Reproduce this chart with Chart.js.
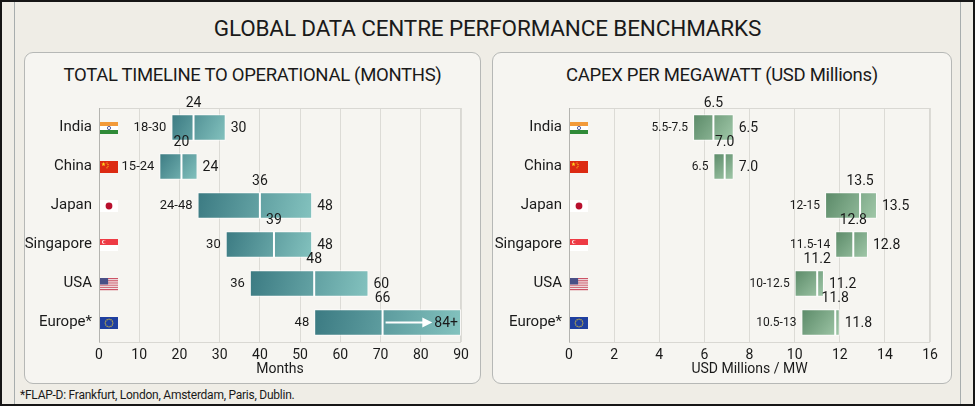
<!DOCTYPE html>
<html>
<head>
<meta charset="utf-8">
<script src="https://cdn.jsdelivr.net/npm/chart.js@4.4.1/dist/chart.umd.min.js"></script>
<style>
html,body{margin:0;padding:0;}
body{width:975px;height:406px;position:relative;background:#efede6;font-family:Roboto,"Noto Sans",sans-serif;overflow:hidden;color:#1a1a1a;}
#frame{position:absolute;left:0;top:0;width:971px;height:402px;border:2px solid #161616;}
.vline{position:absolute;top:2px;width:1px;height:402px;background:#a7adad;}
#title{position:absolute;left:0;width:975px;top:14px;text-align:center;font-size:22.5px;line-height:28px;letter-spacing:-0.15px;}
.panel{position:absolute;top:52px;height:330px;background:#f6f5f1;border:1px solid #b6b8b6;border-radius:9px;}
.ptitle{position:absolute;top:63px;text-align:center;font-size:18.5px;line-height:24px;letter-spacing:-0.3px;}
canvas{position:absolute;}
#foot{position:absolute;left:20px;top:387px;font-size:12px;line-height:16px;letter-spacing:-0.25px;}
</style>
</head>
<body>
<div id="frame"></div>
<div class="vline" style="left:14px"></div>
<div class="vline" style="left:960px"></div>
<div id="title">GLOBAL DATA CENTRE PERFORMANCE BENCHMARKS</div>
<div class="panel" style="left:24px;width:455px"></div>
<div class="panel" style="left:492px;width:458px"></div>
<div class="ptitle" style="left:24px;width:457px">TOTAL TIMELINE TO OPERATIONAL (MONTHS)</div>
<div class="ptitle" style="left:492px;width:460px">CAPEX PER MEGAWATT (USD Millions)</div>
<canvas id="c1" width="456" height="294" style="left:24px;top:88px;width:456px;height:294px"></canvas>
<canvas id="c2" width="458" height="294" style="left:493px;top:88px;width:458px;height:294px"></canvas>
<div id="foot">*FLAP-D: Frankfurt, London, Amsterdam, Paris, Dublin.</div>
<script>
// ---------- data ----------
const categories = ["India", "China", "Japan", "Singapore", "USA", "Europe*"];
const flagCodes = ["in", "cn", "jp", "sg", "us", "eu"];

// Total timeline to operational (months) - bar extents as drawn
const timelineLow  = [18, 15, 24.5, 31.5, 37.5, 53.5];
const timelineHigh = [31.5, 24.5, 53, 53, 67, 90];
const timelineMid  = [23.5, 20.5, 40, 43.5, 53.5, 70.5];
const timelineRangeLabels = ["18-30", "15-24", "24-48", "30", "36", "48"];
const timelineMidLabels   = ["24", "20", "36", "39", "48", "66"];
const timelineEndLabels   = ["30", "24", "48", "48", "60", "84+"];
const timelineOpenEnd     = [false, false, false, false, false, true];
const timelineTicks = [0, 10, 20, 30, 40, 50, 60, 70, 80, 90];

// Capex per megawatt (USD millions) - bar extents as drawn
const capexLow  = [5.5, 6.4, 11.35, 11.8, 10.0, 10.3];
const capexHigh = [7.3, 7.3, 13.65, 13.25, 11.3, 12.0];
const capexMid  = [6.4, 6.9, 12.9, 12.6, 11.0, 11.8];
const capexRangeLabels = ["5.5-7.5", "6.5", "12-15", "11.5-14", "10-12.5", "10.5-13"];
const capexMidLabels   = ["6.5", "7.0", "13.5", "12.8", "11.2", "11.8"];
const capexEndLabels   = ["6.5", "7.0", "13.5", "12.8", "11.2", "11.8"];
const capexOpenEnd     = [false, false, false, false, false, false];
const capexTicks = [0, 2, 4, 6, 8, 10, 12, 14, 16];

// ---------- drawing helpers ----------
const FONT = 'Roboto, "Noto Sans", sans-serif';
const TXT = '#1a1a1a';

function barGradient(c, cols) {
  const chart = c.chart;
  if (!chart.chartArea || c.type !== 'data' || !c.raw) return cols[0];
  const xs = chart.scales.x, ys = chart.scales.y;
  const x0 = xs.getPixelForValue(c.raw[0]), x1 = xs.getPixelForValue(c.raw[1]);
  const yc = ys.getPixelForValue(c.dataIndex);
  const g = chart.ctx.createLinearGradient(x0, yc - 14, x1, yc + 14);
  g.addColorStop(0, cols[0]);
  g.addColorStop(1, cols[1]);
  return g;
}

function drawFlag(ctx, code, x, y, w, h) {
  ctx.save();
  if (code === 'in') {
    ctx.fillStyle = '#f29a3a'; ctx.fillRect(x, y, w, h / 3);
    ctx.fillStyle = '#ffffff'; ctx.fillRect(x, y + h / 3, w, h / 3);
    ctx.fillStyle = '#2f8a37'; ctx.fillRect(x, y + 2 * h / 3, w, h / 3);
    ctx.strokeStyle = '#2b3a8c'; ctx.lineWidth = 0.8;
    ctx.beginPath(); ctx.arc(x + w / 2, y + h / 2, 1.6, 0, Math.PI * 2); ctx.stroke();
  } else if (code === 'cn') {
    ctx.fillStyle = '#dc2a12'; ctx.fillRect(x, y, w, h);
    ctx.fillStyle = '#ffd21f';
    star(ctx, x + 3.5, y + 3.3, 2.2);
    ctx.fillRect(x + 6.5, y + 1.5, 1, 1); ctx.fillRect(x + 7.5, y + 3, 1, 1);
    ctx.fillRect(x + 7.5, y + 4.8, 1, 1); ctx.fillRect(x + 6.5, y + 6.3, 1, 1);
  } else if (code === 'jp') {
    ctx.fillStyle = '#ffffff'; ctx.fillRect(x, y, w, h);
    ctx.fillStyle = '#b8102e';
    ctx.beginPath(); ctx.arc(x + w / 2, y + h / 2, 3.4, 0, Math.PI * 2); ctx.fill();
  } else if (code === 'sg') {
    ctx.fillStyle = '#ee3b45'; ctx.fillRect(x, y, w, h / 2);
    ctx.fillStyle = '#ffffff'; ctx.fillRect(x, y + h / 2, w, h / 2);
    ctx.beginPath(); ctx.arc(x + 4, y + 3, 2, 0, Math.PI * 2); ctx.fill();
    ctx.fillStyle = '#ee3b45';
    ctx.beginPath(); ctx.arc(x + 4.8, y + 3, 1.8, 0, Math.PI * 2); ctx.fill();
  } else if (code === 'us') {
    for (let i = 0; i < 13; i++) {
      ctx.fillStyle = i % 2 === 0 ? '#c8475a' : '#f4eef0';
      ctx.fillRect(x, y + i * h / 13, w, h / 13 + 0.2);
    }
    ctx.fillStyle = '#4a4f86'; ctx.fillRect(x, y, w * 0.45, h * 7 / 13);
  } else if (code === 'eu') {
    ctx.fillStyle = '#1f3f9f'; ctx.fillRect(x, y, w, h);
    ctx.fillStyle = '#f2cf2a';
    for (let i = 0; i < 12; i++) {
      const a = i * Math.PI / 6;
      ctx.fillRect(x + w / 2 + Math.cos(a) * 3.8 - 0.5, y + h / 2 + Math.sin(a) * 3.8 - 0.5, 1.1, 1.1);
    }
  }
  ctx.restore();
}

function star(ctx, cx, cy, r) {
  ctx.beginPath();
  for (let i = 0; i < 10; i++) {
    const rr = i % 2 === 0 ? r : r * 0.45;
    const a = -Math.PI / 2 + i * Math.PI / 5;
    ctx.lineTo(cx + Math.cos(a) * rr, cy + Math.sin(a) * rr);
  }
  ctx.closePath(); ctx.fill();
}

const framePlugin = {
  id: 'frame',
  beforeDatasetsDraw(chart) {
    const {ctx, chartArea: a} = chart;
    ctx.save();
    ctx.strokeStyle = '#d9d8d3'; ctx.lineWidth = 1;
    ctx.strokeRect(a.left + 0.5, a.top + 0.5, a.right - a.left - 1, a.bottom - a.top);
    ctx.strokeStyle = '#b4b4b0';
    ctx.beginPath(); ctx.moveTo(a.left + 0.5, a.top); ctx.lineTo(a.left + 0.5, a.bottom + 0.5); ctx.stroke();
    ctx.restore();
  }
};

const flagPlugin = {
  id: 'flags',
  afterDatasetsDraw(chart) {
    const ctx = chart.ctx, ys = chart.scales.y, left = chart.chartArea.left;
    flagCodes.forEach((code, i) => {
      const yc = ys.getPixelForValue(i);
      drawFlag(ctx, code, left + 1, Math.round(yc - 6), 18, 12);
    });
  }
};

function labelPlugin(cfg) {
  return {
    id: 'labels_' + cfg.id,
    afterDatasetsDraw(chart) {
      const ctx = chart.ctx, xs = chart.scales.x;
      const meta = chart.getDatasetMeta(0);
      meta.data.forEach((bar, i) => {
        const p = bar.getProps(['y', 'height'], true);
        const top = p.y - p.height / 2, bot = p.y + p.height / 2;
        const xl = xs.getPixelForValue(cfg.low[i]);
        const xh = xs.getPixelForValue(cfg.high[i]);
        const xm = xs.getPixelForValue(cfg.mid[i]);
        ctx.save();
        ctx.strokeStyle = '#ffffff'; ctx.lineWidth = 2;
        ctx.beginPath(); ctx.moveTo(xm, top + 0.5); ctx.lineTo(xm, bot - 0.5); ctx.stroke();
        ctx.fillStyle = TXT; ctx.textBaseline = 'middle';
        ctx.font = cfg.midSize + 'px ' + FONT; ctx.textAlign = 'center';
        ctx.fillText(cfg.midLabels[i], xm, top - 11);
        ctx.font = cfg.rangeSize + 'px ' + FONT; ctx.textAlign = 'right';
        ctx.fillText(cfg.rangeLabels[i], xl - 5, p.y + 0.5);
        ctx.font = cfg.endSize + 'px ' + FONT;
        if (cfg.openEnd[i]) {
          ctx.textAlign = 'right';
          const tx = xh - 3;
          ctx.fillText(cfg.endLabels[i], tx, p.y + 0.5);
          const tw = ctx.measureText(cfg.endLabels[i]).width;
          const ax0 = xm + 3, ax1 = tx - tw - 2;
          ctx.strokeStyle = '#ffffff'; ctx.fillStyle = '#ffffff'; ctx.lineWidth = 2;
          ctx.beginPath(); ctx.moveTo(ax0, p.y); ctx.lineTo(ax1 - 8, p.y); ctx.stroke();
          ctx.beginPath(); ctx.moveTo(ax1, p.y); ctx.lineTo(ax1 - 10, p.y - 5); ctx.lineTo(ax1 - 10, p.y + 5); ctx.closePath(); ctx.fill();
        } else {
          ctx.textAlign = 'left';
          ctx.fillText(cfg.endLabels[i], xh + 5, p.y + 0.5);
        }
        ctx.restore();
      });
    }
  };
}

function makeChart(cfg) {
  return new Chart(document.getElementById(cfg.canvas), {
    type: 'bar',
    data: {
      labels: categories,
      datasets: [{
        data: cfg.low.map((l, i) => [l, cfg.high[i]]),
        backgroundColor: (c) => barGradient(c, cfg.colors),
        borderColor: 'rgba(255,255,255,0.8)',
        borderWidth: 1,
        borderSkipped: false,
        barPercentage: 0.68,
        categoryPercentage: 1
      }]
    },
    options: {
      indexAxis: 'y',
      responsive: false,
      animation: false,
      devicePixelRatio: 1,
      layout: {padding: {left: 0, right: cfg.padRight, top: 20, bottom: 0}},
      plugins: {legend: {display: false}, tooltip: {enabled: false}, title: {display: false}},
      scales: {
        x: {
          type: 'linear', min: cfg.ticks[0], max: cfg.ticks[cfg.ticks.length - 1],
          afterBuildTicks: (s) => { s.ticks = cfg.ticks.map(v => ({value: v})); },
          afterFit: (s) => { s.height = 40; },
          grid: {color: '#dcdbd6', drawTicks: false},
          border: {display: false},
          ticks: {color: TXT, font: {family: FONT, size: 14}, padding: 5, maxRotation: 0},
          title: {display: true, text: cfg.xTitle, color: TXT, font: {family: FONT, size: 14}, padding: {top: 0, bottom: 4}}
        },
        y: {
          afterFit: (s) => { s.width = cfg.yWidth; },
          grid: {display: false, drawTicks: false},
          border: {display: false},
          ticks: {color: TXT, font: {family: FONT, size: 15}, padding: 7}
        }
      }
    },
    plugins: [framePlugin, flagPlugin, labelPlugin(cfg)]
  });
}

makeChart({
  id: 'timeline', canvas: 'c1', padRight: 19, yWidth: 75,
  low: timelineLow, high: timelineHigh, mid: timelineMid,
  rangeLabels: timelineRangeLabels, midLabels: timelineMidLabels, endLabels: timelineEndLabels,
  openEnd: timelineOpenEnd, ticks: timelineTicks, xTitle: 'Months',
  colors: ['#3b7a82', '#84c3bf'], midSize: 14, rangeSize: 13, endSize: 14
});
makeChart({
  id: 'capex', canvas: 'c2', padRight: 21, yWidth: 76,
  low: capexLow, high: capexHigh, mid: capexMid,
  rangeLabels: capexRangeLabels, midLabels: capexMidLabels, endLabels: capexEndLabels,
  openEnd: capexOpenEnd, ticks: capexTicks, xTitle: 'USD Millions / MW',
  colors: ['#5a8967', '#a2c9aa'], midSize: 14, rangeSize: 12, endSize: 14
});
</script>
</body>
</html>
